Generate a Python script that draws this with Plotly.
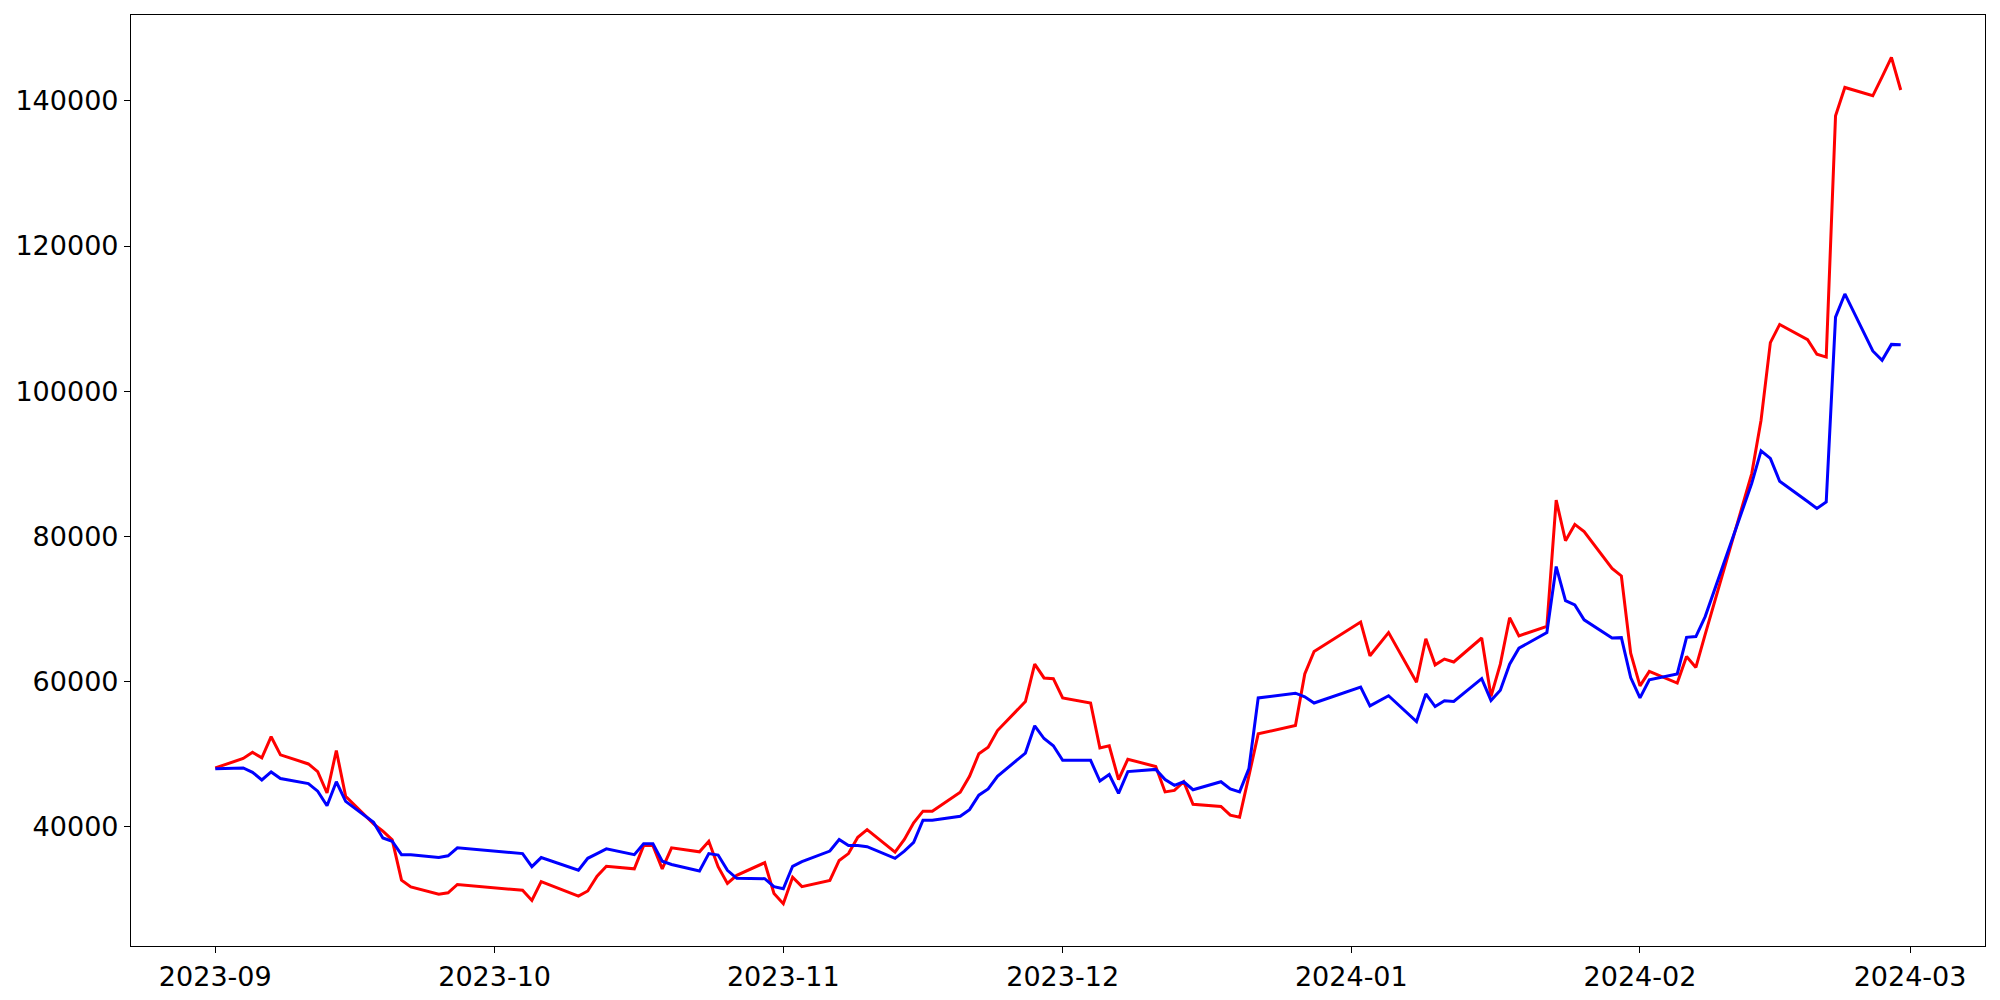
import pandas as pd
import plotly.graph_objects as go

# trading days (KRX calendar, holidays skipped)
dates = [
    # 2023-09
    "2023-09-01", "2023-09-04", "2023-09-05", "2023-09-06", "2023-09-07",
    "2023-09-08", "2023-09-11", "2023-09-12", "2023-09-13", "2023-09-14",
    "2023-09-15", "2023-09-18", "2023-09-19", "2023-09-20", "2023-09-21",
    "2023-09-22", "2023-09-25", "2023-09-26", "2023-09-27",
    # 2023-10
    "2023-10-04", "2023-10-05", "2023-10-06", "2023-10-10", "2023-10-11",
    "2023-10-12", "2023-10-13", "2023-10-16", "2023-10-17", "2023-10-18",
    "2023-10-19", "2023-10-20", "2023-10-23", "2023-10-24", "2023-10-25",
    "2023-10-26", "2023-10-27", "2023-10-30", "2023-10-31",
    # 2023-11
    "2023-11-01", "2023-11-02", "2023-11-03", "2023-11-06", "2023-11-07",
    "2023-11-08", "2023-11-09", "2023-11-10", "2023-11-13", "2023-11-14",
    "2023-11-15", "2023-11-16", "2023-11-17", "2023-11-20", "2023-11-21",
    "2023-11-22", "2023-11-23", "2023-11-24", "2023-11-27", "2023-11-28",
    "2023-11-29", "2023-11-30",
    # 2023-12
    "2023-12-01", "2023-12-04", "2023-12-05", "2023-12-06", "2023-12-07",
    "2023-12-08", "2023-12-11", "2023-12-12", "2023-12-13", "2023-12-14",
    "2023-12-15", "2023-12-18", "2023-12-19", "2023-12-20", "2023-12-21",
    "2023-12-22", "2023-12-26", "2023-12-27", "2023-12-28",
    # 2024-01
    "2024-01-02", "2024-01-03", "2024-01-04", "2024-01-05", "2024-01-08",
    "2024-01-09", "2024-01-10", "2024-01-11", "2024-01-12", "2024-01-15",
    "2024-01-16", "2024-01-17", "2024-01-18", "2024-01-19", "2024-01-22",
    "2024-01-23", "2024-01-24", "2024-01-25", "2024-01-26", "2024-01-29",
    "2024-01-30", "2024-01-31",
    # 2024-02
    "2024-02-01", "2024-02-02", "2024-02-05", "2024-02-06", "2024-02-07",
    "2024-02-08", "2024-02-13", "2024-02-14", "2024-02-15", "2024-02-16",
    "2024-02-19", "2024-02-20", "2024-02-21", "2024-02-22", "2024-02-23",
    "2024-02-26", "2024-02-27", "2024-02-28", "2024-02-29",
]

red_values = [
    # Sep
    48100, 49400, 50250, 49500, 52400, 49900, 48650, 47600, 44650, 50500,
    44200, 40400, 39400, 38200, 32650, 31700, 30700, 30900, 32050,
    # Oct
    31250, 29850, 32450, 30450, 31150, 33200, 34550, 34200, 37400, 37400,
    34200, 37100, 36550, 38000, 34500, 32200, 33300, 35050, 30800,
    # Nov
    29400, 33050, 31750, 32600, 35350, 36300, 38550, 39600, 36500, 38250,
    40550, 42150, 42150, 44750, 46950, 50050, 50950, 53250, 57250, 62400,
    60500, 60400,
    # Dec
    57750, 57050, 50850, 51150, 46500, 49300, 48300, 44800, 45000, 46200,
    43100, 42800, 41600, 41300, 47000, 52800, 53950, 61050, 64150,
    # Jan
    68200, 63550, 65150, 66750, 59900, 65900, 62300, 63100, 62700, 66000,
    57950, 62400, 68800, 66300, 67600, 85000, 79400, 81650, 80650, 75600,
    74550, 63900,
    # Feb
    59400, 61400, 59800, 63450, 61950, 66500, 88650, 96000, 106700, 109200,
    107100, 105100, 104700, 137950, 141850, 140700, 143300, 146000, 141500,
]

blue_values = [
    # Sep
    48000, 48100, 47500, 46450, 47550, 46650, 45950, 44900, 42900, 46200,
    43500, 40600, 38450, 38000, 36150, 36150, 35750, 36000, 37100,
    # Oct
    36300, 34500, 35750, 34000, 35650, 36300, 36950, 36150, 37650, 37650,
    35250, 34800, 33900, 36300, 36100, 34000, 32900, 32850, 31750,
    # Nov
    31450, 34550, 35200, 36650, 38250, 37400, 37400, 37250, 35650, 36650,
    37850, 40900, 40900, 41450, 42350, 44350, 45200, 46950, 50150, 53900,
    52150, 51150,
    # Dec
    49150, 49150, 46300, 47200, 44600, 47600, 47900, 46500, 45700, 46200,
    45100, 46200, 45200, 44800, 48000, 57750, 58400, 57900, 57050,
    # Jan
    59250, 56650, 57350, 58050, 54500, 58300, 56550, 57350, 57250, 60400,
    57400, 58800, 62400, 64600, 66750, 75850, 71150, 70550, 68500, 66000,
    66050, 60550,
    # Feb
    57750, 60250, 61050, 66100, 66200, 68950, 87300, 91800, 90750, 87600,
    84800, 83850, 84750, 110200, 113400, 105550, 104250, 106450, 106400,
]

x = pd.to_datetime(dates)

# matplotlib-like 5% margins around the data
x_pad = (x.max() - x.min()) * 0.05
all_vals = red_values + blue_values
y_span = max(all_vals) - min(all_vals)
y_range = [min(all_vals) - 0.05 * y_span, max(all_vals) + 0.05 * y_span]

fig = go.Figure()
fig.add_trace(
    go.Scatter(x=x, y=red_values, mode="lines", line={"color": "red", "width": 3})
)
fig.add_trace(
    go.Scatter(x=x, y=blue_values, mode="lines", line={"color": "blue", "width": 3})
)

axis_style = {
    "showline": True,
    "linecolor": "black",
    "linewidth": 1.2,
    "mirror": True,
    "showgrid": False,
    "zeroline": False,
    "automargin": False,
    "ticks": "outside",
    "ticklen": 6,
    "tickwidth": 1.2,
    "tickcolor": "black",
    "tickfont": {"size": 27, "color": "black"},
}

fig.update_layout(
    width=2000,
    height=1000,
    showlegend=False,
    plot_bgcolor="white",
    paper_bgcolor="white",
    font={"family": "DejaVu Sans", "size": 27, "color": "black"},
    margin={"l": 131, "r": 15, "t": 15, "b": 54, "pad": 0},
    xaxis={
        **axis_style,
        "type": "date",
        "range": [x.min() - x_pad, x.max() + x_pad],
        "tick0": "2023-09-01",
        "dtick": "M1",
        "tickformat": "%Y-%m",
    },
    yaxis={
        **axis_style,
        "range": y_range,
        "tick0": 0,
        "dtick": 20000,
        "tickformat": "d",
    },
)

# page body has a default 8px margin; drop it so the figure sits at (0, 0)
fig.write_html(
    "out.html",
    config={"displayModeBar": False},
    post_script="document.body.style.margin = '0';",
)
